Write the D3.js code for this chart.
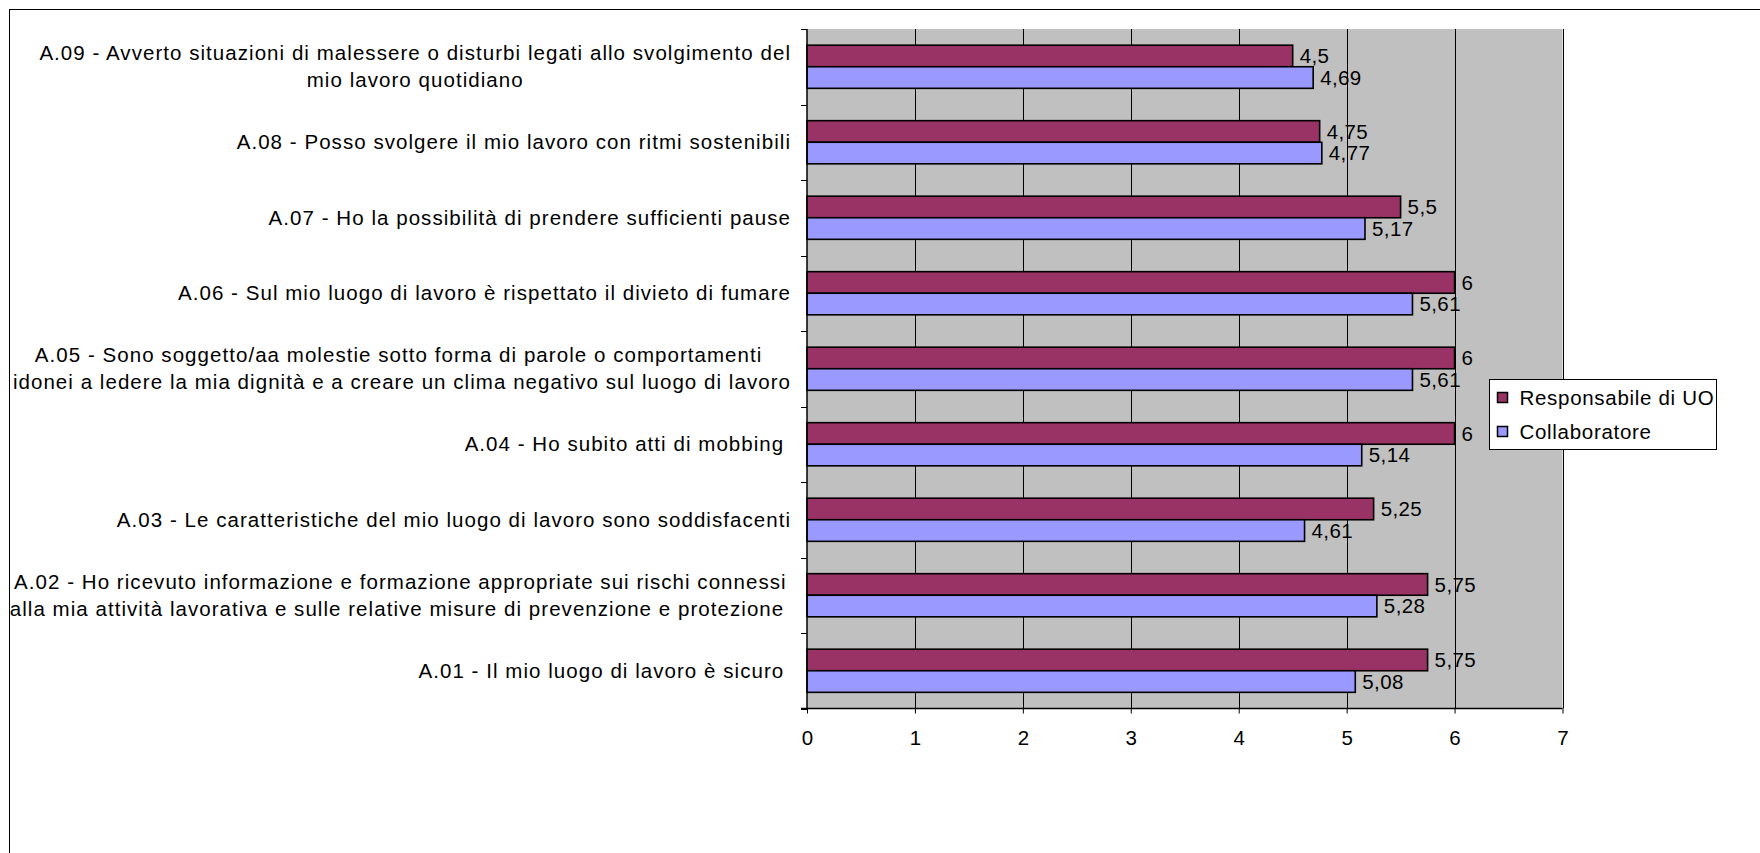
<!DOCTYPE html>
<html>
<head>
<meta charset="utf-8">
<script src="https://cdn.jsdelivr.net/npm/d3@7"></script>
<style>
  body { margin: 0; background: #fff; }
  text { font-family: "Liberation Sans", Arial, sans-serif; fill: #000; }
</style>
</head>
<body>
<script>
// categories top to bottom, each label as one or two lines
const categories = ["A.09", "A.08", "A.07", "A.06", "A.05", "A.04", "A.03", "A.02", "A.01"];
const labelLines = [
    ["A.09 - Avverto situazioni di malessere o disturbi legati allo svolgimento del", "mio lavoro quotidiano"],
    ["A.08 - Posso svolgere il mio lavoro con ritmi sostenibili"],
    ["A.07 - Ho la possibilità di prendere sufficienti pause"],
    ["A.06 - Sul mio luogo di lavoro è rispettato il divieto di fumare"],
    ["A.05 - Sono soggetto/aa molestie sotto forma di parole o comportamenti ", "idonei a ledere la mia dignità e a creare un clima negativo sul luogo di lavoro"],
    ["A.04 - Ho subito atti di mobbing "],
    ["A.03 - Le caratteristiche del mio luogo di lavoro sono soddisfacenti"],
    ["A.02 - Ho ricevuto informazione e formazione appropriate sui rischi connessi", "alla mia attività lavorativa e sulle relative misure di prevenzione e protezione "],
    ["A.01 - Il mio luogo di lavoro è sicuro "]
];
const seriesNames = ["Responsabile di UO", "Collaboratore"];
const responsabile = [4.5, 4.75, 5.5, 6, 6, 6, 5.25, 5.75, 5.75];
const collaboratore = [4.69, 4.77, 5.17, 5.61, 5.61, 5.14, 4.61, 5.28, 5.08];
const xTicks = [0, 1, 2, 3, 4, 5, 6, 7];
const colors = ["#993366", "#9999FF"];

const W = 1760, H = 853,
    plot = {left: 807, right: 1562.5, top: 29, bottom: 708.5},
    fontSize = 20.5;

const rows = categories.map((c, i) => ({cat: c, lines: labelLines[i], vals: [responsabile[i], collaboratore[i]]}));
const fmt = v => String(v).replace(".", ",");

const svg = d3.select("body").append("svg").attr("width", W).attr("height", H);

// chart frame
svg.append("rect")
    .attr("x", 9.5).attr("y", 9.5)
    .attr("width", W).attr("height", H)
    .attr("fill", "#fff").attr("stroke", "#000").attr("stroke-width", 1);

const x = d3.scaleLinear().domain([0, 7]).range([plot.left, plot.right]),
    y = d3.scaleBand().domain(categories).range([plot.top, plot.bottom]),
    ySeries = d3.scaleBand().domain([0, 1]).range([0, y.bandwidth()]).paddingInner(0).paddingOuter(0.75);

// plot background
svg.append("rect")
    .attr("x", plot.left).attr("y", plot.top)
    .attr("width", plot.right - plot.left).attr("height", plot.bottom - plot.top)
    .attr("fill", "#C0C0C0");

// vertical gridlines
svg.append("g").selectAll("line")
    .data(xTicks.slice(1))
    .join("line")
    .attr("x1", d => Math.round(x(d)) + 0.5).attr("x2", d => Math.round(x(d)) + 0.5)
    .attr("y1", plot.top).attr("y2", plot.bottom)
    .attr("stroke", "#000").attr("stroke-width", 1);

// bars
const groups = svg.append("g").selectAll("g")
    .data(rows)
    .join("g")
    .attr("transform", d => "translate(0," + y(d.cat) + ")");

groups.selectAll("rect")
    .data(d => d.vals)
    .join("rect")
    .attr("x", x(0))
    .attr("y", (d, i) => ySeries(i))
    .attr("width", d => x(d) - x(0))
    .attr("height", ySeries.bandwidth())
    .attr("fill", (d, i) => colors[i])
    .attr("stroke", "#000").attr("stroke-width", 1.6);

// value labels
groups.selectAll("text.val")
    .data(d => d.vals)
    .join("text")
    .attr("class", "val")
    .attr("x", d => x(d) + 7)
    .attr("y", (d, i) => ySeries(i) + ySeries.bandwidth() / 2)
    .attr("dy", "0.35em")
    .style("font-size", fontSize + "px")
    .style("letter-spacing", "0.4px")
    .text(d => fmt(d));

// y axis line and ticks at category boundaries
svg.append("line")
    .attr("x1", plot.left).attr("x2", plot.left)
    .attr("y1", plot.top).attr("y2", plot.bottom)
    .attr("stroke", "#000").attr("stroke-width", 1.5);

svg.append("g").selectAll("line")
    .data(d3.range(categories.length + 1))
    .join("line")
    .attr("x1", plot.left - 6).attr("x2", plot.left)
    .attr("y1", i => Math.round(plot.top + i * y.step()) + 0.5)
    .attr("y2", i => Math.round(plot.top + i * y.step()) + 0.5)
    .attr("stroke", "#000");

// x axis
const xAxis = svg.append("g")
    .attr("transform", "translate(0," + plot.bottom + ")")
    .call(d3.axisBottom(x).tickValues(xTicks).tickSize(5).tickPadding(17).tickFormat(d3.format("d")));
xAxis.select(".domain").attr("stroke-width", 1.5).attr("d", "M" + (plot.left - 6) + ",0H" + plot.right);
xAxis.selectAll("text").style("font-size", fontSize + "px").style("font-family", "'Liberation Sans', Arial, sans-serif");

// category labels, lines centred on each other, block right-aligned
const labelRight = 791, lineGap = 27;
const labels = svg.append("g").selectAll("g")
    .data(rows)
    .join("g");

labels.each(function(d) {
    const g = d3.select(this),
        cy = y(d.cat) + y.bandwidth() / 2;
    const t = g.selectAll("text")
        .data(d.lines)
        .join("text")
        .attr("text-anchor", "middle")
        .attr("xml:space", "preserve")
        .style("white-space", "pre")
        .style("font-size", fontSize + "px")
        .style("letter-spacing", "1.05px")
        .attr("y", (l, i) => cy + (i - (d.lines.length - 1) / 2) * lineGap)
        .attr("dy", "0.35em")
        .text(l => l);
    let maxLen = 0;
    t.each(function() { maxLen = Math.max(maxLen, this.getComputedTextLength()); });
    t.attr("x", labelRight - maxLen / 2);
});

// legend
const legend = svg.append("g").attr("transform", "translate(1489.5,379.5)");
legend.append("rect")
    .attr("width", 227).attr("height", 70)
    .attr("fill", "#fff").attr("stroke", "#000");
const items = legend.selectAll("g")
    .data(seriesNames)
    .join("g")
    .attr("transform", (d, i) => "translate(8," + (18 + i * 34) + ")");
items.append("rect")
    .attr("x", 0).attr("y", -5)
    .attr("width", 10).attr("height", 10)
    .attr("fill", (d, i) => colors[i])
    .attr("stroke", "#000").attr("stroke-width", 1.5);
items.append("text")
    .attr("x", 22).attr("dy", "0.35em")
    .style("font-size", fontSize + "px")
    .style("letter-spacing", "0.7px")
    .text(d => d);
</script>
</body>
</html>
